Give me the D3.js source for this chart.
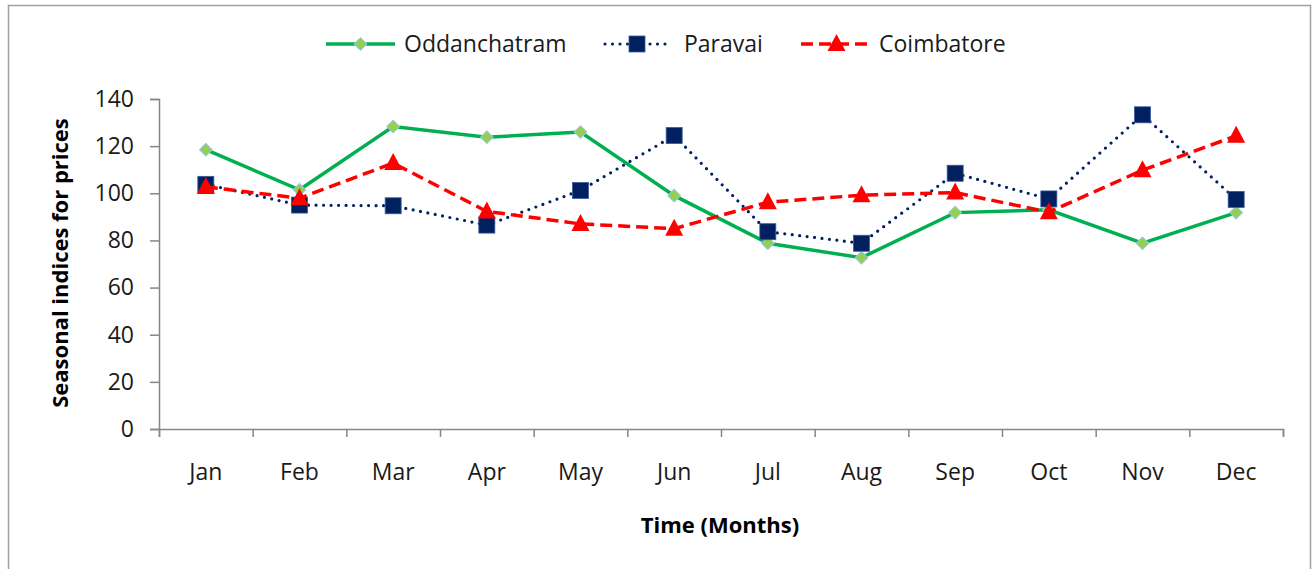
<!DOCTYPE html>
<html>
<head>
<meta charset="utf-8">
<script src="https://cdn.jsdelivr.net/npm/d3@7"></script>
<style>
  body { margin: 0; background: #fff; }
  svg { display: block; font-family: "Open Sans", "Noto Sans", sans-serif; }
</style>
</head>
<body>
<div id="chart"></div>
<script>
const months = ["Jan", "Feb", "Mar", "Apr", "May", "Jun", "Jul", "Aug", "Sep", "Oct", "Nov", "Dec"];
const oddanchatram = [118.5, 101.5, 128.3, 123.8, 126, 99, 78.8, 72.7, 91.8, 93, 78.8, 91.8];
const paravai = [103.8, 95, 94.7, 86.5, 101.2, 124.5, 83.7, 78.8, 108.5, 97.6, 133.3, 97.4];
const coimbatore = [102.7, 97.9, 112.8, 92.3, 87, 85, 96.2, 99.2, 100.3, 92, 109.8, 124.4];
const seriesNames = ["Oddanchatram", "Paravai", "Coimbatore"];
const yTicks = [0, 20, 40, 60, 80, 100, 120, 140];

const width = 1312, height = 569;
const plotLeft = 159, plotRight = 1283, plotTop = 99, plotBottom = 429;

const svg = d3.select("#chart").append("svg")
    .attr("width", width)
    .attr("height", height);

// outer frame
svg.append("rect")
    .attr("x", 8.5).attr("y", 5.5)
    .attr("width", 1302).attr("height", 600)
    .attr("fill", "none")
    .attr("stroke", "#a0a0a0")
    .attr("stroke-width", 1.5);

const x = d3.scaleBand().domain(months).range([plotLeft, plotRight]).padding(0);
const y = d3.scaleLinear().domain([0, 140]).range([plotBottom, plotTop]);
const cx = d => x(d) + x.bandwidth() / 2;

// y axis
const yAxis = svg.append("g")
    .attr("transform", `translate(${plotLeft},0)`)
    .call(d3.axisLeft(y).tickValues(yTicks).tickSize(9).tickPadding(16));
yAxis.select(".domain").attr("stroke", "#868686").attr("stroke-width", 1.5);
yAxis.selectAll(".tick line").attr("stroke", "#868686").attr("stroke-width", 1.5);
yAxis.selectAll("text").attr("font-size", 23).attr("fill", "#1a1a1a")
    .attr("font-family", "Open Sans");

// x axis: boundary ticks
const xb = d3.scaleLinear().domain([0, 12]).range([plotLeft, plotRight]);
const xTickG = svg.append("g")
    .attr("transform", `translate(0,${plotBottom})`)
    .call(d3.axisBottom(xb).ticks(12).tickSize(8).tickFormat(""));
xTickG.select(".domain").attr("stroke", "#868686").attr("stroke-width", 1.5);
xTickG.selectAll(".tick line").attr("stroke", "#868686").attr("stroke-width", 1.5);

// x axis: month labels
const xLab = svg.append("g")
    .attr("transform", `translate(0,${plotBottom})`)
    .call(d3.axisBottom(x).tickSize(0).tickPadding(35));
xLab.select(".domain").remove();
xLab.selectAll("text").attr("font-size", 23).attr("fill", "#1a1a1a")
    .attr("font-family", "Open Sans");

// axis titles
svg.append("text")
    .attr("x", 720).attr("y", 533)
    .attr("text-anchor", "middle")
    .attr("font-size", 22).attr("font-weight", "bold")
    .text("Time (Months)");

svg.append("text")
    .attr("transform", "translate(68,263) rotate(-90)")
    .attr("text-anchor", "middle")
    .attr("font-size", 22).attr("font-weight", "bold")
    .text("Seasonal indices for prices");

const styles = [
    { values: oddanchatram, color: "#00B050", dash: null, width: 3.5, cap: "butt", marker: "diamond" },
    { values: paravai, color: "#002060", dash: "0,7.5", width: 3.2, cap: "round", marker: "square" },
    { values: coimbatore, color: "#FF0000", dash: "12,6", width: 3.5, cap: "butt", marker: "triangle" }
];

const line = d3.line().x((d, i) => cx(months[i])).y(d => y(d));

function drawMarker(g, type, px, py) {
    if (type === "diamond") {
        g.append("path")
            .attr("d", d3.symbol().type(d3.symbolSquare).size(80)())
            .attr("transform", `translate(${px},${py}) rotate(45)`)
            .attr("fill", "#92D050").attr("stroke", "#9DC3E6").attr("stroke-width", 1);
    } else if (type === "square") {
        g.append("rect")
            .attr("x", px - 8).attr("y", py - 8)
            .attr("width", 16).attr("height", 16)
            .attr("fill", "#002060").attr("stroke", "#3a5a9a").attr("stroke-width", 0.8);
    } else {
        g.append("path")
            .attr("d", `M${px},${py - 10}L${px + 9},${py + 7}L${px - 9},${py + 7}Z`)
            .attr("fill", "#FF0000");
    }
}

styles.forEach(s => {
    svg.append("path")
        .datum(s.values)
        .attr("d", line)
        .attr("fill", "none")
        .attr("stroke", s.color)
        .attr("stroke-width", s.width)
        .attr("stroke-linecap", s.cap)
        .attr("stroke-dasharray", s.dash);
    const g = svg.append("g");
    s.values.forEach((v, i) => drawMarker(g, s.marker, cx(months[i]), y(v)));
});

// legend
const legendPos = [
    { x1: 326, x2: 395, tx: 404 },
    { x1: 605, x2: 669, tx: 684 },
    { x1: 801, x2: 872, tx: 879 }
];
const ly = 44;
styles.forEach((s, i) => {
    const p = legendPos[i];
    svg.append("line")
        .attr("x1", p.x1).attr("x2", p.x2).attr("y1", ly).attr("y2", ly)
        .attr("stroke", s.color).attr("stroke-width", s.width)
        .attr("stroke-linecap", s.cap)
        .attr("stroke-dasharray", s.dash);
    const g = svg.append("g");
    drawMarker(g, s.marker, (p.x1 + p.x2) / 2, ly);
    svg.append("text")
        .attr("x", p.tx).attr("y", ly + 8)
        .attr("font-size", 23).attr("fill", "#1a1a1a")
        .text(seriesNames[i]);
});
</script>
</body>
</html>
